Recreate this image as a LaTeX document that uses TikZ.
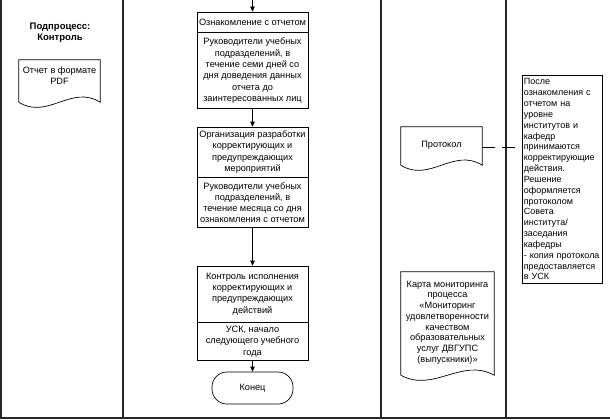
\documentclass[tikz,border=0pt]{standalone}
\usepackage{fontspec}
\setmainfont{Liberation Sans}
\usetikzlibrary{arrows.meta,calc}
\tikzset{
  lane/.style={line width=1.3pt, draw=black!85},
  box/.style={draw=black, line width=0.7pt, minimum width=111pt, inner sep=2pt, align=center,
    font=\fontsize{9.2}{11.3}\selectfont},
  flow/.style={draw=black, line width=0.7pt, -{Triangle[length=5pt,width=4.5pt]}},
  docline/.style={draw=black, line width=0.7pt},
  doctext/.style={inner sep=0pt, align=center, font=\fontsize{9.2}{10.8}\selectfont},
  note/.style={draw=black, line width=0.7pt, inner sep=1.5pt, align=left, text width=77pt,
    font=\fontsize{9}{10.83}\selectfont},
  term/.style={draw=black, line width=0.7pt, rounded corners=15pt, minimum width=81pt,
    minimum height=32pt, font=\fontsize{9.2}{11.3}\selectfont},
}
\newcommand{\docshape}[1]{%
  \draw[docline] let \p1=(#1.south west), \p2=(#1.north east) in
    (\x1,\y1) -- (\x1,\y2) -- (\x2,\y2) -- (\x2,\y1)
    .. controls ({\x2-0.35*(\x2-\x1)},{\y1+18pt}) and ({\x1+0.35*(\x2-\x1)},{\y1-18pt}) .. (\x1,\y1);}
\begin{document}
\begin{tikzpicture}[x=1pt,y=-1pt]
\useasboundingbox (0,0) rectangle (610,420);
% lanes
\draw[lane] (1,0) -- (1,418);
\draw[lane] (123,0) -- (123,418);
\draw[lane] (381,0) -- (381,418);
\draw[lane] (506,0) -- (506,418);
\draw[lane] (0,418) -- (610,418);
% title
\node[font=\fontsize{9.5}{11}\selectfont\bfseries, align=center] (title) at (60,32.5) {Подпроцесс:\\Контроль};
% PDF document
\node[minimum width=81pt, minimum height=42pt, inner sep=0pt] (pdfbox) at (59.5,81) {};
\node[doctext, anchor=north] (pdf) at (59.5,66.5) {Отчет в формате\\PDF};
\docshape{pdfbox}
% main column
\coordinate (start) at (252.5,0);
\node[box, minimum height=20pt] (h1) at (252.5,22) {Ознакомление с отчетом};
\node[box, minimum height=76pt, anchor=north] (b1) at (h1.south) {Руководители учебных\\подразделений, в\\течение семи дней со\\дня доведения данных\\отчета до\\заинтересованных лиц};
\node[box, minimum height=50pt] (h2) at (252.5,152) {Организация разработки\\корректирующих и\\предупреждающих\\мероприятий};
\node[box, minimum height=50pt, anchor=north] (b2) at (h2.south) {Руководители учебных\\подразделений, в\\течение месяца со дня\\ознакомления с отчетом};
\node[box, minimum height=56pt] (h3) at (252.5,294) {Контроль исполнения\\корректирующих и\\предупреждающих\\действий};
\node[box, minimum height=38pt, anchor=north] (b3) at (h3.south) {УСК, начало\\следующего учебного\\года};
\node[term] (end) at (252.5,388) {Конец};
\draw[flow] (start) -- (h1.north);
\draw[flow] (b1.south) -- (h2.north);
\draw[flow] (b2.south) -- (h3.north);
\draw[flow] (b3.south) -- (end.north);
% protocol document
\node[minimum width=81pt, minimum height=38pt, inner sep=0pt] (protbox) at (441.5,146) {};
\node[doctext] (prot) at (441.5,145) {Протокол};
\docshape{protbox}
% card document
\node[minimum width=93pt, minimum height=103pt, inner sep=0pt] (cardbox) at (447.5,323.5) {};
\node[doctext, font=\fontsize{9.2}{10.7}\selectfont] (card) at (447.5,322.5) {Карта мониторинга\\процесса\\«Мониторинг\\удовлетворенности\\качеством\\образовательных\\услуг ДВГУПС\\(выпускники)»};
\docshape{cardbox}
% annotation
\node[note, minimum height=208pt, anchor=north west] (ann) at (522,75) {После\\ознакомления с\\отчетом на\\уровне\\институтов и\\кафедр\\принимаются\\корректирующие\\действия.\\Решение\\оформляется\\протоколом\\Совета\\института/\\заседания\\кафедры\\- копия протокола\\предоставляется\\в УСК};
\coordinate (annend) at (515,147);
\draw[docline, dash pattern=on 13pt off 7pt] (protbox.east |- annend) -- (annend);
\end{tikzpicture}
\end{document}
